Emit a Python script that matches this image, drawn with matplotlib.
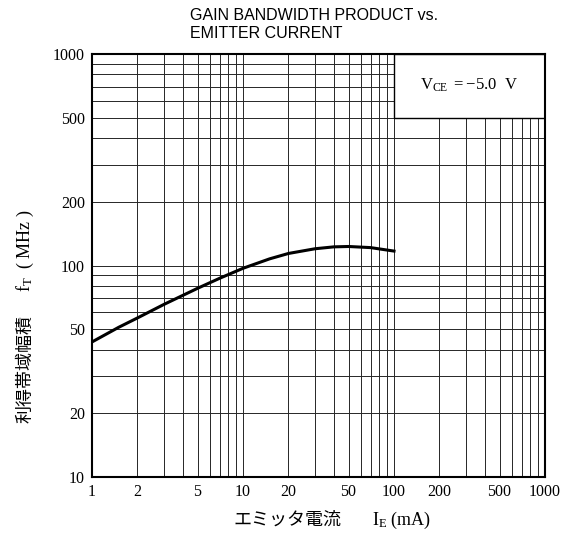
import matplotlib.pyplot as plt
from matplotlib.patches import Rectangle
from matplotlib.ticker import FixedLocator, NullFormatter

plt.rcParams['mathtext.fontset'] = 'custom'
plt.rcParams['mathtext.rm'] = 'Liberation Serif'
plt.rcParams['mathtext.it'] = 'Liberation Serif:italic'

# Curve data (emitter current in mA, fT in MHz)
emitter_current = [1, 1.5, 2, 3, 5, 7, 10, 15, 20, 30, 40, 50, 70, 100]
gain_bandwidth = [43.5, 51, 56.5, 65.5, 78, 87, 97, 107.5, 114, 120, 122.5, 123, 121.5, 117]

x_ticks = [1, 2, 5, 10, 20, 50, 100, 200, 500, 1000]
y_ticks = [10, 20, 50, 100, 200, 500, 1000]
x_tick_labels = ["1", "2", "5", "10", "20", "50", "100", "200", "500", "1000"]
y_tick_labels = ["10", "20", "50", "100", "200", "500", "1000"]

serif = "Liberation Serif"
cjk = ["Noto Sans CJK JP", "DejaVu Sans"]

fig = plt.figure(figsize=(5.73, 5.36), dpi=100)
ax = fig.add_axes([92 / 573, 59 / 536, 453 / 573, 423 / 536])

ax.set_xscale("log")
ax.set_yscale("log")
ax.set_xlim(1, 1000)
ax.set_ylim(10, 1000)

# log paper grid: every 1..9 of each decade
minor_x = [m * 10 ** d for d in range(0, 3) for m in range(2, 10)]
minor_y = [m * 10 ** d for d in range(1, 3) for m in range(2, 10)]
ax.xaxis.set_major_locator(FixedLocator(x_ticks))
ax.yaxis.set_major_locator(FixedLocator(y_ticks))
ax.xaxis.set_minor_locator(FixedLocator(minor_x))
ax.yaxis.set_minor_locator(FixedLocator(minor_y))
ax.xaxis.set_minor_formatter(NullFormatter())
ax.yaxis.set_minor_formatter(NullFormatter())
ax.set_xticklabels(x_tick_labels, fontfamily=serif, fontsize=11.5)
ax.set_yticklabels(y_tick_labels, fontfamily=serif, fontsize=11.5)
ax.tick_params(which="both", length=0, pad=5)
ax.set_axisbelow(True)
ax.grid(which="both", color="0.15", linewidth=0.7)

for s in ax.spines.values():
    s.set_linewidth(1.5)

# condition box in the upper right corner
box = Rectangle((100, 500), 900, 500, facecolor="white", edgecolor="black",
                linewidth=1.0, zorder=2)
ax.add_patch(box)
ax.text(316, 710, r"V$_{\rm CE}$ $=-$5.0  V", ha="center", va="center",
        fontfamily=serif, fontsize=12, zorder=3)

ax.plot(emitter_current, gain_bandwidth, color="black", linewidth=2.2, zorder=4)

# title
fig.text(190 / 573, 1 - 15 / 536, "GAIN BANDWIDTH PRODUCT vs.", ha="left",
         va="center", fontfamily="Liberation Sans", fontsize=11.5)
fig.text(190 / 573, 1 - 34 / 536, "EMITTER CURRENT", ha="left",
         va="center", fontfamily="Liberation Sans", fontsize=11.5)

# x label
fig.text(233 / 573, 1 - 520 / 536, "エミッタ電流", ha="left", va="center",
         family=cjk, fontsize=13)
fig.text(372 / 573, 1 - 520 / 536, r"I$_{\rm E}$ (mA)", ha="left", va="center",
         fontfamily=serif, fontsize=13)

# y label
fig.text(25 / 573, 1 - 423 / 536, "利得帯域幅積", rotation=90, ha="center",
         va="bottom", family=cjk, fontsize=13)
fig.text(25 / 573, 1 - 292 / 536, r"f$_{\rm T}$  ( MHz )", rotation=90,
         ha="center", va="bottom", fontfamily=serif, fontsize=13)

plt.savefig("out.png", dpi=100)
